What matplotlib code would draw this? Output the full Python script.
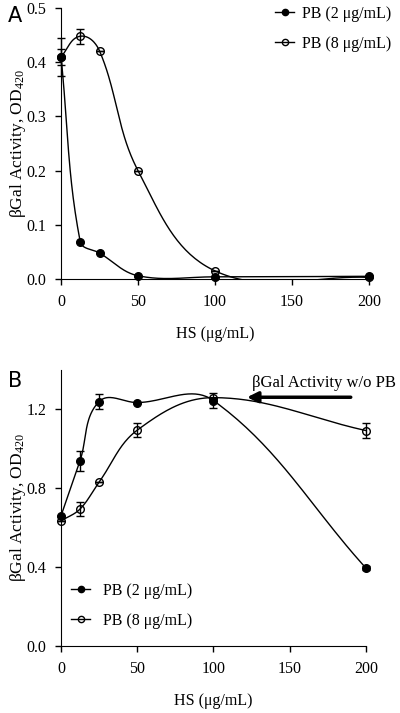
import numpy as np
import matplotlib.pyplot as plt

plt.rcParams['font.family'] = ['Liberation Serif', 'DejaVu Serif']
plt.rcParams['mathtext.fontset'] = 'stix'

# HS concentration (ug/mL)
hs = [0, 12.5, 25, 50, 100, 200]

# Panel A
a_pb2 = [0.410, 0.069, 0.048, 0.006, 0.004, 0.005]
a_pb2_err = [0.015, 0.0, 0.0, 0.0, 0.0, 0.0]
a_pb8 = [0.410, 0.448, 0.421, 0.200, 0.015, 0.003]
a_pb8_err = [0.035, 0.014, 0.0, 0.0, 0.0, 0.0]

# Panel B
b_pb2 = [0.66, 0.94, 1.24, 1.235, 1.245, 0.395]
b_pb2_err = [0.0, 0.05, 0.04, 0.0, 0.04, 0.01]
b_pb8 = [0.635, 0.695, 0.832, 1.095, 1.26, 1.093]
b_pb8_err = [0.0, 0.035, 0.0, 0.034, 0.0, 0.04]

labels = ['PB (2 \u03bcg/mL)', 'PB (8 \u03bcg/mL)']
ylab = '\u03b2Gal Activity, OD$\\mathregular{_{420}}$'
xlab = 'HS (\u03bcg/mL)'


def smooth(ax, x, y, n=40, k=0.36):
    # Excel-like smoothed line, tangents scaled by segment length (screen space)
    fig = ax.figure
    bb = ax.get_position()
    W = bb.width * fig.get_figwidth()
    H = bb.height * fig.get_figheight()
    x0, x1 = ax.get_xlim()
    y0, y1 = ax.get_ylim()
    P = np.column_stack([(np.array(x) - x0) / (x1 - x0) * W,
                         (np.array(y) - y0) / (y1 - y0) * H])
    m = len(P)
    D = []
    for i in range(m):
        d = P[min(i + 1, m - 1)] - P[max(i - 1, 0)]
        D.append(d / np.linalg.norm(d))
    pts = []
    for i in range(m - 1):
        p1, p2 = P[i], P[i + 1]
        L = np.linalg.norm(p2 - p1)
        c1 = p1 + D[i] * L * k
        c2 = p2 - D[i + 1] * L * k
        t = np.linspace(0, 1, n)[:, None]
        seg = ((1 - t) ** 3 * p1 + 3 * (1 - t) ** 2 * t * c1
               + 3 * (1 - t) * t ** 2 * c2 + t ** 3 * p2)
        pts.append(seg)
    pts = np.vstack(pts)
    sx = pts[:, 0] / W * (x1 - x0) + x0
    sy = pts[:, 1] / H * (y1 - y0) + y0
    ax.plot(sx, sy, color='black', lw=1.0, zorder=2)


def style(ax):
    ax.spines['top'].set_visible(False)
    ax.spines['right'].set_visible(False)
    ax.tick_params(direction='out', length=4.5, width=1, labelsize=11.5, pad=6)
    ax.set_xlim(0, 200)
    ax.set_xticks([0, 50, 100, 150, 200])
    ax.set_xlabel(xlab, fontsize=11.5, labelpad=12)
    ax.set_ylabel(ylab, fontsize=12.5)
    ax.yaxis.set_label_coords(-0.108, 0.5)


def handles():
    return [plt.Line2D([], [], color='black', marker='o', ms=4.5, lw=1),
            plt.Line2D([], [], color='black', marker='o', mfc='none', ms=4.5, lw=1)]


fig = plt.figure(figsize=(4, 7.13), dpi=100)

# ---- panel A
axA = fig.add_axes([0.1525, 0.6087, 0.77, 0.380])
style(axA)
axA.set_ylim(0, 0.5)
axA.set_yticks([0, 0.1, 0.2, 0.3, 0.4, 0.5])
axA.set_yticklabels(['0.0', '0.1', '0.2', '0.3', '0.4', '0.5'])
smooth(axA, hs, a_pb2)
smooth(axA, hs, a_pb8)
axA.errorbar(hs, a_pb2, yerr=a_pb2_err, fmt='o', color='black', ms=5.5,
             capsize=3, elinewidth=1, zorder=3, clip_on=False)
axA.errorbar(hs, a_pb8, yerr=a_pb8_err, fmt='o', color='black', mfc='none',
             ms=5.5, capsize=3, elinewidth=1, zorder=3, clip_on=False)
axA.legend(handles(), labels, loc='upper left', bbox_to_anchor=(275 / 400, 1 - 6 / 713),
           bbox_transform=fig.transFigure, frameon=False, fontsize=11.5,
           handlelength=1.2, handletextpad=0.5, labelspacing=0.85,
           borderpad=0, borderaxespad=0)
fig.text(8 / 400, 1 - 16 / 713, 'A', family='DejaVu Sans', fontsize=15, va='center')

# ---- panel B
axB = fig.add_axes([0.1525, 0.094, 0.7625, 0.387])
style(axB)
axB.set_ylim(0, 1.4)
axB.set_yticks([0, 0.4, 0.8, 1.2])
axB.set_yticklabels(['0.0', '0.4', '0.8', '1.2'])
smooth(axB, hs, b_pb2)
smooth(axB, hs, b_pb8)
axB.errorbar(hs, b_pb2, yerr=b_pb2_err, fmt='o', color='black', ms=5.5,
             capsize=3, elinewidth=1, zorder=3, clip_on=False)
axB.errorbar(hs, b_pb8, yerr=b_pb8_err, fmt='o', color='black', mfc='none',
             ms=5.5, capsize=3, elinewidth=1, zorder=3, clip_on=False)
axB.legend(handles(), labels, loc='upper left', bbox_to_anchor=(71 / 400, 1 - 583 / 713),
           bbox_transform=fig.transFigure, frameon=False, fontsize=11.5,
           handlelength=1.2, handletextpad=0.8, labelspacing=0.85,
           borderpad=0, borderaxespad=0)
axB.annotate('', xy=(122, 1.262), xytext=(190, 1.262),
             arrowprops=dict(arrowstyle='-|>', color='black', lw=2.5,
                             mutation_scale=16, shrinkA=0, shrinkB=0))
axB.text(125, 1.335, '\u03b2Gal Activity w/o PB', fontsize=12, va='center', ha='left')
fig.text(8 / 400, 1 - 381 / 713, 'B', family='DejaVu Sans', fontsize=15, va='center')

fig.savefig('out.png', dpi=100)
